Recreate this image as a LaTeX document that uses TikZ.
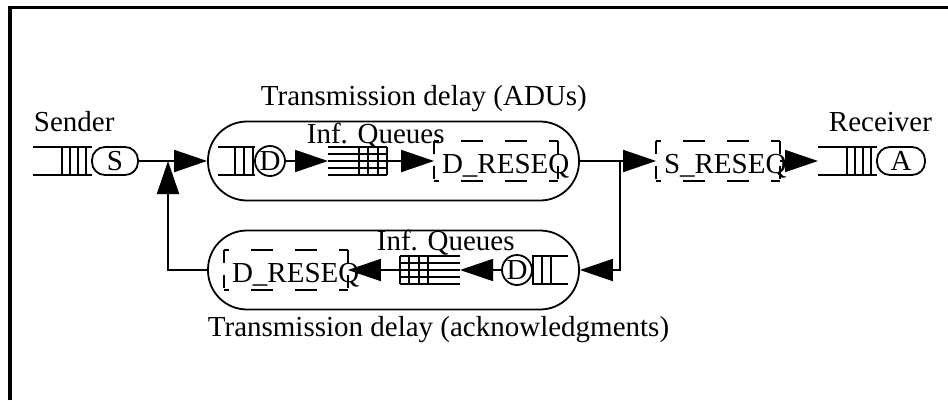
\documentclass[tikz,border=0pt]{standalone}
\usepackage{fontspec}
\setmainfont{Liberation Serif}
\usetikzlibrary{shapes,arrows.meta,positioning,calc}

\tikzset{
  lbl/.style={inner sep=0pt},
  flow/.style={-{Triangle[length=33pt,width=22pt]}},
  delaybox/.style={draw, rounded corners=39pt, minimum width=371pt, minimum height=79pt},
  endbox/.style={draw, rounded corners=13pt, minimum width=46pt, minimum height=28pt, inner sep=0pt},
  dnode/.style={draw, circle, minimum size=30pt, inner sep=0pt},
  reseq/.style={minimum width=122pt, minimum height=38pt, inner sep=0pt, text height=24pt, text depth=0pt},
  hdash/.style={dash pattern=on 22pt off 22pt, dash phase=17pt},
  vdash/.style={dash pattern=on 13pt off 12pt}
}
\newcommand{\reseqframe}[1]{%
  \draw[hdash] (#1.north west) -- (#1.north east);
  \draw[hdash] (#1.south west) -- (#1.south east);
  \draw[vdash] (#1.north west) -- (#1.south west);
  \draw[vdash] (#1.north east) -- (#1.south east);}

\begin{document}
\begin{tikzpicture}[x=1pt, y=-1pt, line width=1.8pt, font=\fontsize{29}{34}\selectfont]
  \useasboundingbox (0,0) rectangle (948,400);
  \draw[line width=3.5pt] (10,400) -- (10,7.5) -- (948,7.5);

  % sender
  \node[lbl, anchor=base west] (sender) at (33,131) {Sender};
  \draw (33,147) -- (92,147) (33,175) -- (92,175);
  \foreach \x in {62,70,78,86} \draw (\x,147) -- (\x,175);
  \node[endbox] (sbox) at (115,161) {S};

  % transmission delay, ADUs
  \node[delaybox] (adu) at (393.5,161) {};
  \node[lbl, anchor=base west] (adulbl) at (260,105) {Transmission delay (ADUs)};
  \draw (218,147) -- (255,147) (218,175) -- (255,175);
  \foreach \x in {235,244,253} \draw (\x,147) -- (\x,175);
  \node[dnode] (dtop) at (270,161) {D};
  \coordinate (inftopin) at (328,161);
  \coordinate (inftopout) at (387,161);
  \foreach \y in {147,154,...,175} \draw (328,\y) -- (387,\y);
  \foreach \x in {359,368,378,387} \draw (\x,147) -- (\x,175);
  \node[lbl, anchor=base west] (inftop) at (306,143) {Inf. Queues};
  \node[reseq] (dreseqtop) at (496,161) {\makebox[108pt][l]{D\_RESEQ}};
  \reseqframe{dreseqtop}
  \draw[flow] (dtop) -- (inftopin);
  \draw[flow] (inftopout) -- (dreseqtop);

  % transmission delay, acknowledgments
  \node[delaybox] (ack) at (393.5,270) {};
  \node[lbl, anchor=base west] (acklbl) at (207,336) {Transmission delay (acknowledgments)};
  \draw (532,256) -- (568,256) (532,284) -- (568,284);
  \foreach \x in {533,542,551} \draw (\x,256) -- (\x,284);
  \node[dnode] (dbot) at (517,270) {D};
  \coordinate (infbotin) at (460,270);
  \coordinate (infbotout) at (400,270);
  \foreach \y in {256,263,...,284} \draw (400,\y) -- (460,\y);
  \foreach \x in {400,409,419,428} \draw (\x,256) -- (\x,284);
  \node[lbl, anchor=base west] (infbot) at (376,250) {Inf. Queues};
  \node[reseq] (dreseqbot) at (286,270) {\makebox[108pt][l]{D\_RESEQ}};
  \reseqframe{dreseqbot}
  \draw[flow] (dbot) -- (infbotin);
  \draw[flow] (infbotout) -- (dreseqbot);

  % receiver
  \node[reseq] (sreseq) at (718,161) {\makebox[108pt][l]{S\_RESEQ}};
  \reseqframe{sreseq}
  \node[lbl, anchor=base west] (receiver) at (828,131) {Receiver};
  \draw (818,147) -- (877,147) (818,175) -- (877,175);
  \foreach \x in {847,855,863,871} \draw (\x,147) -- (\x,175);
  \node[endbox, minimum width=48pt] (abox) at (901,161) {A};
  \coordinate (rcvin) at (818,161);

  % connectors
  \coordinate (join) at (168,161);
  \coordinate (split) at (620,161);
  \draw[flow] (sbox) -- (adu);
  \draw[flow] (ack) -| (join);
  \draw (adu) -- (split);
  \draw[flow] (split) -- (sreseq);
  \draw[flow] (split) |- (ack);
  \draw[flow] (sreseq) -- (rcvin);
\end{tikzpicture}
\end{document}
